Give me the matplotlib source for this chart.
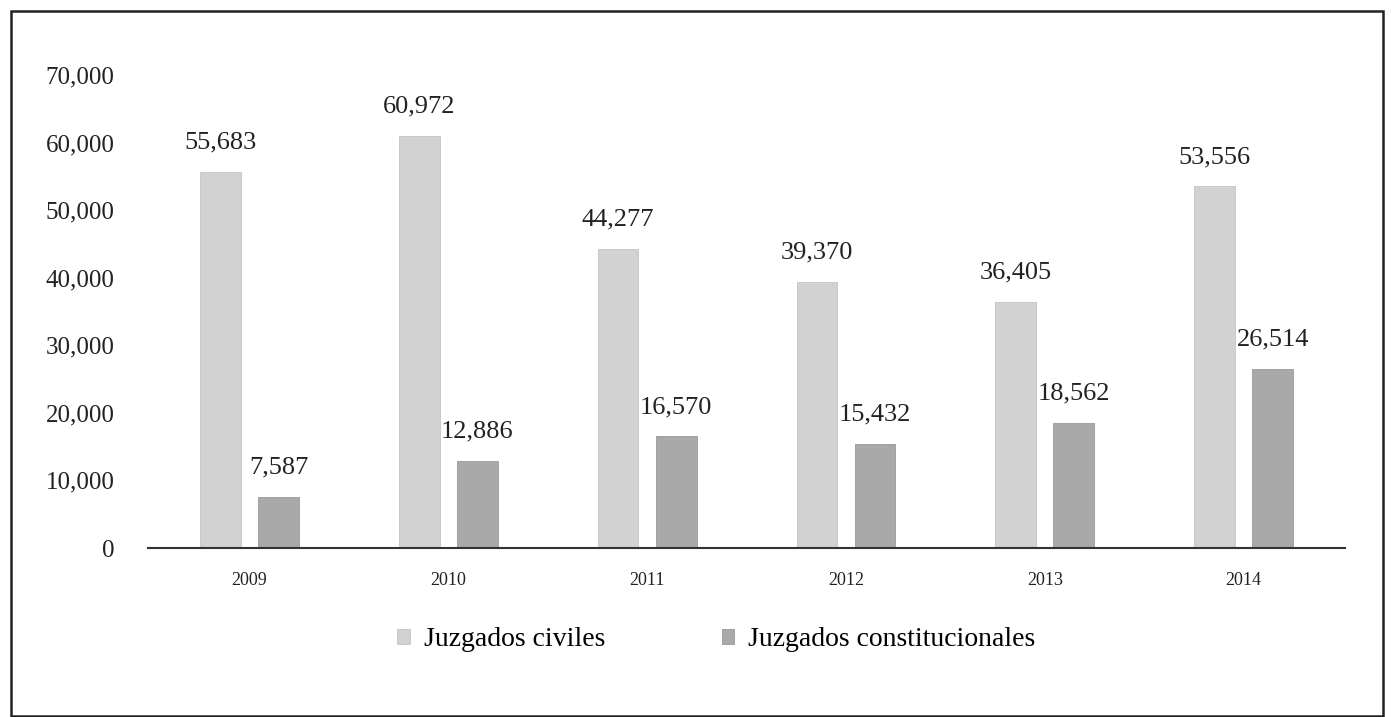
import matplotlib.pyplot as plt
import numpy as np
from matplotlib.patches import Rectangle

years = ["2009", "2010", "2011", "2012", "2013", "2014"]
civiles = [55683, 60972, 44277, 39370, 36405, 53556]
constitucionales = [7587, 12886, 16570, 15432, 18562, 26514]
yticks = [0, 10000, 20000, 30000, 40000, 50000, 60000, 70000]

plt.rcParams['font.family'] = ['Liberation Serif', 'DejaVu Serif']

fig = plt.figure(figsize=(13.91, 7.17), dpi=100)
ax = fig.add_axes([0.1064, 0.2357, 0.8606, 0.6597])

x = np.arange(len(years))
off = 0.146
w = 0.205
b1 = ax.bar(x - off, civiles, w, color="#d2d2d2", edgecolor="#c4c4c4",
            linewidth=0.6, label="Juzgados civiles")
b2 = ax.bar(x + off, constitucionales, w, color="#a9a9a9", edgecolor="#999999",
            linewidth=0.6, label="Juzgados constitucionales")

for bars, vals in ((b1, civiles), (b2, constitucionales)):
    for r, v in zip(bars, vals):
        ax.annotate(f"{v:,}", (r.get_x() + r.get_width() / 2, v),
                    xytext=(0, 13), textcoords="offset points",
                    ha="center", va="bottom", fontsize=19, color="#222222",
                    annotation_clip=False)

ax.set_xlim(-0.51, 5.51)
ax.set_ylim(0, 70000)
ax.set_yticks(yticks)
ax.set_yticklabels([f"{t:,}" for t in yticks], fontsize=18, color="#222222")
ax.set_xticks(x)
ax.set_xticklabels(years, fontsize=13, color="#222222")
ax.tick_params(axis="both", length=0)
ax.tick_params(axis="y", pad=24)
ax.tick_params(axis="x", pad=17)
for s in ("top", "right", "left"):
    ax.spines[s].set_visible(False)
ax.spines["bottom"].set_color("#333333")
ax.spines["bottom"].set_linewidth(1.5)

fig.legend(handles=[b1, b2], loc="center", bbox_to_anchor=(0.515, 0.108),
           ncol=2, frameon=False, fontsize=20, handlelength=0.45,
           handleheight=0.45, handletextpad=0.5, columnspacing=4.2)

fig.patches.append(Rectangle((11 / 1391, 1 / 717), 1372 / 1391, 705 / 717,
                             transform=fig.transFigure, fill=False,
                             edgecolor="#222222", linewidth=1.8))

fig.savefig("out.png", dpi=100)
